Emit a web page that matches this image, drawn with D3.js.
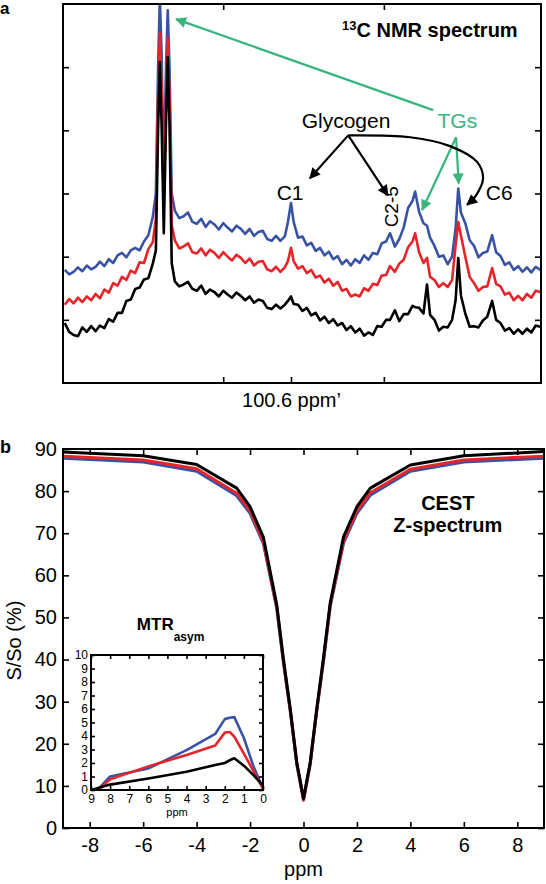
<!DOCTYPE html>
<html><head><meta charset="utf-8">
<script src="https://cdn.jsdelivr.net/npm/d3@7"></script>
<style>
body{margin:0;background:#fff}
svg{display:block}
</style></head><body>
<svg id="chart" width="546" height="884"></svg>
<script>
// ================= Panel a : 13C NMR spectrum =================
const nmrShift = [152,151,150,149,148,147,146,145,144,143,142,141,140,139,138,137,136,135,134,133,132,
  131.3,130.8,130.4,130.0,129.5,129.0,128.6,128.2,127.7,
  127,126,125,124,123,122,121,120,119,118,117,116,115,114,113,112,111,110,109,108,107,106,105,104,103,102,
  101.3,100.6,
  100,99,98,97,96,95,94,93,92,91,90,89,88,87,86,85,84,83,82,81,80,79,
  78.1,
  77,76,75,74,73,
  72.4,71.5,70.5,69.7,69,
  68,67,66,65,64,
  63.2,62.6,
  62,61,60,59,58,57,56,
  54.9,
  54,53,52,51,50,49,48,47,46,45,44];
const nmrBlue = [17.9,17.2,17.6,18.3,17.7,18.6,18.0,18.4,19.2,18.5,19.6,19.0,20.2,20.6,19.9,21.0,21.4,21.0,22.4,23.4,26.3,
  30,50,61,52,32,50,59,50,30,
  27.3,26.1,26.4,27.0,25.5,25.2,26.0,24.7,25.6,25.1,24.3,25.3,24.6,24.0,24.9,24.4,23.6,24.4,23.3,23.9,24.1,22.8,22.5,23.3,22.5,23.2,
  25.5,28.5,
  25.5,23.0,23.2,21.8,22.2,20.9,21.4,20.2,20.8,19.6,20.1,18.8,19.5,18.6,19.6,19.0,20.2,19.5,20.6,20.4,22.1,22.4,
  23.7,
  21.6,22.8,24.6,27.7,28.8,
  30.3,27.1,25.3,24.9,23.0,
  21.7,20.0,20.2,18.8,20.0,
  24.5,30.8,
  27.0,25.3,22.6,21.7,19.9,20.6,20.8,
  23.4,
  20.7,20.1,18.7,19.1,17.9,18.5,17.6,18.3,17.5,18.4,17.9];
const nmrRed = [12.4,13.3,12.6,13.5,12.8,13.7,13.1,14.1,13.4,14.8,14.3,15.8,15.4,16.8,16.3,17.8,17.4,19.1,19.0,21.2,22.3,
  26,45,55.4,46,28,45,54.6,45,25.0,
  22.6,21.3,21.6,22.1,20.7,20.5,21.3,20.2,21.1,20.6,19.8,20.7,20.0,19.4,20.3,19.8,19.0,19.7,18.6,19.2,19.3,18.0,17.7,18.4,17.6,18.3,
  19.3,21.4,
  19.3,18.1,18.5,17.4,17.9,16.7,17.0,15.9,16.5,15.4,16.0,14.6,14.9,13.7,14.0,13.7,15.0,14.6,15.7,15.5,17.0,17.1,
  18.5,
  17.6,18.9,19.5,21.5,22.4,
  23.7,20.7,19.0,19.8,16.8,
  16.3,15.2,15.8,15.2,16.3,
  21.8,25.5,
  23.4,20.0,16.8,15.8,14.6,15.2,15.3,
  18.2,
  15.7,15.3,14.0,14.3,13.1,13.8,13.1,14.1,13.5,14.6,14.4];
const nmrBlack = [9.5,8.1,7.6,7.4,8.8,8.1,9.0,8.2,9.1,8.7,10.1,9.7,11.1,11.1,13.0,13.2,14.9,15.1,16.4,16.6,18.9,
  21,40,50.8,41,23.7,41,51.6,41,19,
  16.1,15.3,15.6,16.0,14.9,14.6,15.4,14.1,14.8,14.4,13.7,14.6,14.0,13.5,14.3,13.8,13.1,13.7,12.7,13.2,13.0,11.9,11.7,12.4,11.8,12.4,
  13.0,13.7,
  12.5,12.4,11.4,11.9,10.7,11.1,9.9,10.5,9.5,10.1,9.1,9.5,8.4,9.0,8.0,8.6,7.5,8.0,7.6,9.0,8.9,10.0,
  10.0,
  11.5,9.8,10.9,10.9,12.2,
  12.0,11.9,11.0,15.6,10.8,
  10.0,8.3,8.9,8.8,10.0,
  13.1,19.8,
  13.9,11.0,8.9,9.0,8.8,9.9,10.5,
  13.0,
  10.0,9.5,8.3,8.7,7.8,8.5,7.8,8.6,8.0,9.1,8.9];
const nmrTicksBottom = [116, 100.6, 79.5];
const nmrTicksTop = [116, 79.5];
const nmrTicksSide = [10, 20, 30, 40, 50];
const nmrAxisLabel = "100.6 ppm\u2019";

// ================= Panel b : CEST Z-spectrum =================
const cestOffset = [-9,-6,-4,-2.5,-2,-1.5,-1,-0.75,-0.5,-0.25,0,0.25,0.5,0.75,1,1.5,2,2.5,4,6,9];
const cestBlue  = [87.8,86.9,84.7,78.9,74.7,67.5,52.0,39.2,28.0,15.1,6.6,15.1,28.0,39.7,52.6,67.7,74.7,79.0,84.7,86.9,87.8];
const cestRed   = [88.3,87.4,85.3,79.5,75.3,68.0,52.5,39.5,28.2,15.3,6.7,15.3,28.2,40.0,53.0,68.2,75.3,79.6,85.2,87.4,88.3];
const cestBlack = [89.3,88.4,86.3,80.7,76.3,69.0,53.0,40.0,28.5,15.5,7.0,15.5,28.5,40.5,53.5,69.2,76.3,80.7,86.2,88.4,89.4];
const cestTicksX = [-8,-6,-4,-2,0,2,4,6,8];
const cestTicksY = [0,10,20,30,40,50,60,70,80,90];

// inset : MTRasym
const mtrOffset = [9,8,6,4,2.5,2,1.75,1.5,1,0.5,0];
const mtrBlue  = [-0.5,1.0,1.6,2.95,4.15,5.25,5.35,5.4,3.85,1.75,0.1];
const mtrRed   = [-0.5,0.8,1.75,2.6,3.3,4.25,4.3,3.95,2.7,1.4,0.1];
const mtrBlack = [0,0.4,0.85,1.35,1.85,2.0,2.2,2.35,1.8,1.1,0.35];
const mtrTicksX = [9,8,7,6,5,4,3,2,1,0];
const mtrTicksY = [0,1,2,3,4,5,6,7,8,9,10];

// ================= drawing =================
const FONT = '"Liberation Sans", Arial, Helvetica, sans-serif';
const C_BLUE = "#3953a4", C_RED = "#e6252b", C_BLACK = "#000", C_GREEN = "#38b47f";
const svg = d3.select("#chart");
const defs = svg.append("defs");

function marker(id, color){
  defs.append("marker").attr("id", id)
    .attr("viewBox","0 0 10 10").attr("refX",9).attr("refY",5)
    .attr("markerWidth",13).attr("markerHeight",11)
    .attr("markerUnits","userSpaceOnUse").attr("orient","auto")
    .append("path").attr("d","M0,0 L10,5 L0,10 Z").attr("fill",color);
}
marker("arrBlack", C_BLACK);
marker("arrGreen", C_GREEN);

function styleAxis(g, fs){
  g.select(".domain").remove();
  g.selectAll(".tick line").attr("stroke","#000").attr("stroke-width",1.6);
  g.selectAll(".tick text").attr("font-family",FONT).attr("font-size",fs).attr("fill","#000");
}

// ---------- Panel a ----------
const A = {l:63, r:541, t:4, b:383};
const xA = d3.scaleLinear().domain([152.4, 43.8]).range([A.l, A.r]);
const yA = d3.scaleLinear().domain([0, 60]).range([A.b, A.t]);

defs.append("clipPath").attr("id","clipA").append("rect")
  .attr("x",A.l).attr("y",A.t).attr("width",A.r-A.l).attr("height",A.b-A.t);

const gA = svg.append("g");
const lineA = d3.line().x((d,i)=>xA(nmrShift[i])).y(d=>yA(d));
[[nmrBlue,C_BLUE],[nmrRed,C_RED],[nmrBlack,C_BLACK]].forEach(([s,c])=>{
  gA.append("path").attr("d",lineA(s)).attr("fill","none").attr("stroke",c)
    .attr("stroke-width",2.6).attr("stroke-linejoin","round").attr("clip-path","url(#clipA)");
});

styleAxis(gA.append("g").attr("transform",`translate(0,${A.b})`)
  .call(d3.axisBottom(xA).tickValues(nmrTicksBottom).tickSizeInner(-6).tickSizeOuter(0).tickPadding(10)
    .tickFormat(d => d === 100.6 ? nmrAxisLabel : "")), 20);
styleAxis(gA.append("g").attr("transform",`translate(0,${A.t})`)
  .call(d3.axisTop(xA).tickValues(nmrTicksTop).tickSizeInner(-6).tickSizeOuter(0).tickFormat("")), 20);
styleAxis(gA.append("g").attr("transform",`translate(${A.l},0)`)
  .call(d3.axisLeft(yA).tickValues(nmrTicksSide).tickSizeInner(-6).tickSizeOuter(0).tickFormat("")), 20);
styleAxis(gA.append("g").attr("transform",`translate(${A.r},0)`)
  .call(d3.axisRight(yA).tickValues(nmrTicksSide).tickSizeInner(-6).tickSizeOuter(0).tickFormat("")), 20);
gA.append("rect").attr("x",A.l).attr("y",A.t).attr("width",A.r-A.l).attr("height",A.b-A.t)
  .attr("fill","none").attr("stroke","#000").attr("stroke-width",2);

// annotations (data coordinates: ppm, intensity)
const P = (ppm, v) => [xA(ppm), yA(v)];
const straight = d3.line();
function arrow(pts, color, mk, w){
  gA.append("path").attr("d", straight(pts)).attr("fill","none").attr("stroke",color)
    .attr("stroke-width",w).attr("marker-end",`url(#${mk})`);
}
arrow([P(68.3,43.2), P(126.7,57.6)], C_GREEN, "arrGreen", 2.2);
arrow([P(63.1,38.9), P(70.8,27.4)], C_GREEN, "arrGreen", 2.2);
arrow([P(63.1,38.9), P(62.5,31.6)], C_GREEN, "arrGreen", 2.2);
arrow([P(87.6,39.2), P(96.3,32.4)], C_BLACK, "arrBlack", 2.2);
arrow([P(87.6,39.2), P(78.6,29.7)], C_BLACK, "arrBlack", 2.2);
const curve = d3.line().curve(d3.curveCatmullRom.alpha(0.5));
gA.append("path").attr("d", curve([P(87.6,39.2),P(73.55,38.9),P(64.46,37.5),P(58.33,35.0),P(56.96,32.4),P(58.55,29.7),P(60.6,28.2)]))
  .attr("fill","none").attr("stroke",C_BLACK).attr("stroke-width",2.2).attr("marker-end","url(#arrBlack)");

function label(g, x, y, txt, opts){
  const o = Object.assign({size:21, anchor:"middle", weight:"normal", color:"#000"}, opts||{});
  return g.append("text").attr("x",x).attr("y",y).attr("text-anchor",o.anchor)
    .attr("font-family",FONT).attr("font-size",o.size).attr("font-weight",o.weight)
    .attr("fill",o.color).text(txt);
}
label(gA, xA(88.1), yA(40.3), "Glycogen");
label(gA, xA(62.8), yA(40.3), "TGs", {color:C_GREEN});
label(gA, xA(100.8), yA(29.0), "C1");
label(gA, xA(53.3), yA(29.0), "C6");
label(gA, 0, 0, "C2-5", {size:19})
  .attr("x",null).attr("y",null)
  .attr("transform",`translate(${xA(76.2)},${yA(27.9)}) rotate(-90)`);
const title = gA.append("text").attr("x",xA(89.0)).attr("y",yA(54.7))
  .attr("font-family",FONT).attr("font-weight","bold").attr("fill","#000");
title.append("tspan").attr("font-size",13).attr("dy",-7).text("13");
title.append("tspan").attr("font-size",20).attr("dy",7).text("C NMR spectrum");
label(svg, 0, 14, "a", {size:17, weight:"bold", anchor:"start"});

// ---------- Panel b ----------
const B = {l:63, r:544, t:449, b:828};
const xB = d3.scaleLinear().domain([-9, 9]).range([B.l, B.r]);
const yB = d3.scaleLinear().domain([0, 90]).range([B.b, B.t]);
const gB = svg.append("g");
const lineB = d3.line().x((d,i)=>xB(cestOffset[i])).y(d=>yB(d));
[[cestBlue,C_BLUE],[cestRed,C_RED],[cestBlack,C_BLACK]].forEach(([s,c])=>{
  gB.append("path").attr("d",lineB(s)).attr("fill","none").attr("stroke",c)
    .attr("stroke-width",3).attr("stroke-linejoin","round");
});
styleAxis(gB.append("g").attr("transform",`translate(0,${B.b})`)
  .call(d3.axisBottom(xB).tickValues(cestTicksX).tickSizeInner(-6).tickSizeOuter(0).tickPadding(10)
    .tickFormat(d=>String(d))), 20);
styleAxis(gB.append("g").attr("transform",`translate(0,${B.t})`)
  .call(d3.axisTop(xB).tickValues(cestTicksX).tickSizeInner(-6).tickSizeOuter(0).tickFormat("")), 20);
styleAxis(gB.append("g").attr("transform",`translate(${B.l},0)`)
  .call(d3.axisLeft(yB).tickValues(cestTicksY).tickSizeInner(-6).tickSizeOuter(0).tickPadding(6)
    .tickFormat(d=>String(d))), 20);
styleAxis(gB.append("g").attr("transform",`translate(${B.r},0)`)
  .call(d3.axisRight(yB).tickValues(cestTicksY).tickSizeInner(-6).tickSizeOuter(0).tickFormat("")), 20);
gB.append("rect").attr("x",B.l).attr("y",B.t).attr("width",B.r-B.l).attr("height",B.b-B.t)
  .attr("fill","none").attr("stroke","#000").attr("stroke-width",2);

label(gB, xB(0), 876, "ppm", {size:20});
label(gB, 0, 0, "S/So (%)", {size:20}).attr("x",null).attr("y",null)
  .attr("transform",`translate(21,${yB(44.5)}) rotate(-90)`);
label(gB, xB(5.4), yB(75.5), "CEST", {size:20, weight:"bold"});
label(gB, xB(5.4), yB(70.3), "Z-spectrum", {size:20, weight:"bold"});
label(svg, 0, 453, "b", {size:18, weight:"bold", anchor:"start"});

// ---------- Inset ----------
const I = {l:91, r:263, t:655, b:790};
const xI = d3.scaleLinear().domain([9, 0]).range([I.l, I.r]);
const yI = d3.scaleLinear().domain([0, 10]).range([I.b, I.t]);
const gI = svg.append("g");
gI.append("rect").attr("x",I.l).attr("y",I.t).attr("width",I.r-I.l).attr("height",I.b-I.t).attr("fill","#fff");
defs.append("clipPath").attr("id","clipI").append("rect")
  .attr("x",I.l).attr("y",I.t).attr("width",I.r-I.l).attr("height",I.b-I.t);
const lineI = d3.line().x((d,i)=>xI(mtrOffset[i])).y(d=>yI(d));
[[mtrBlue,C_BLUE],[mtrRed,C_RED],[mtrBlack,C_BLACK]].forEach(([s,c])=>{
  gI.append("path").attr("d",lineI(s)).attr("fill","none").attr("stroke",c)
    .attr("stroke-width",2.6).attr("stroke-linejoin","round").attr("clip-path","url(#clipI)");
});
styleAxis(gI.append("g").attr("transform",`translate(0,${I.b})`)
  .call(d3.axisBottom(xI).tickValues(mtrTicksX).tickSizeInner(-4).tickSizeOuter(0).tickPadding(4)
    .tickFormat(d=>String(d))), 12);
styleAxis(gI.append("g").attr("transform",`translate(0,${I.t})`)
  .call(d3.axisTop(xI).tickValues(mtrTicksX).tickSizeInner(-4).tickSizeOuter(0).tickFormat("")), 12);
styleAxis(gI.append("g").attr("transform",`translate(${I.l},0)`)
  .call(d3.axisLeft(yI).tickValues(mtrTicksY).tickSizeInner(-4).tickSizeOuter(0).tickPadding(3)
    .tickFormat(d=>String(d))), 12);
styleAxis(gI.append("g").attr("transform",`translate(${I.r},0)`)
  .call(d3.axisRight(yI).tickValues(mtrTicksY).tickSizeInner(-4).tickSizeOuter(0).tickFormat("")), 12);
gI.append("rect").attr("x",I.l).attr("y",I.t).attr("width",I.r-I.l).attr("height",I.b-I.t)
  .attr("fill","none").attr("stroke","#000").attr("stroke-width",2);
label(gI, xI(4.5), 816, "ppm", {size:11});
const mt = gI.append("text").attr("x",xI(6.6)).attr("y",yI(11.85))
  .attr("font-family",FONT).attr("font-weight","bold").attr("fill","#000");
mt.append("tspan").attr("font-size",17).text("MTR");
mt.append("tspan").attr("font-size",12).attr("dy",11).text("asym");
</script>
</body></html>
